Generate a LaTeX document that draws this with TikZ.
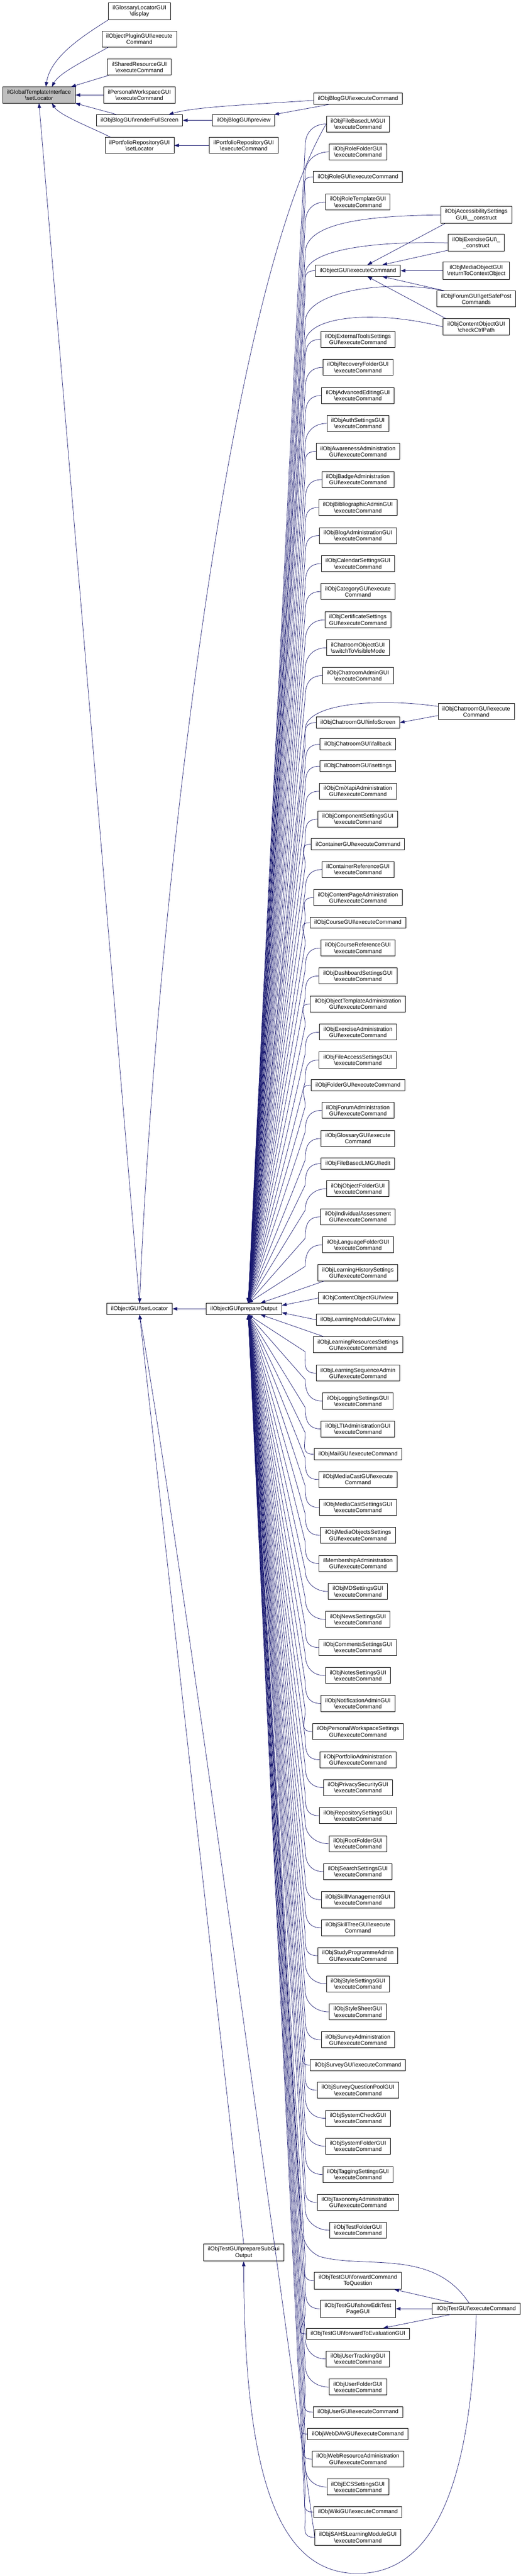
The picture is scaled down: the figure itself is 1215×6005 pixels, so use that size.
\documentclass[tikz,border=0pt]{standalone}
\usepackage{fontspec}
\setmainfont{Liberation Sans}
\usetikzlibrary{arrows.meta,calc}
\definecolor{edgeblue}{RGB}{25,25,112}
\newcommand{\bsl}{\textbackslash}
\begin{document}
\begin{tikzpicture}[x=1pt,y=-1pt,line join=round,>={Triangle[length=11pt,width=8pt]}]
\tikzset{fn/.style={draw=black,line width=1.1pt,fill=white,align=center,inner xsep=10pt,
    inner ysep=6.5pt,minimum height=26pt,font=\fontsize{13.2}{14.7}\selectfont},
  call/.style={->,draw=edgeblue,line width=0.9pt}}
\useasboundingbox (0,0) rectangle (1215,6005);
% callee and its direct callers
\node[fn,fill=black!25] (root) at (91,221.5) {ilGlobalTemplateInterface\\\bsl setLocator};
\node[fn] (glos) at (325.5,26) {ilGlossaryLocatorGUI\\\bsl display};
\node[fn] (plug) at (325,91) {ilObjectPluginGUI\bsl execute\\Command};
\node[fn] (shar) at (325,156.5) {ilSharedResourceGUI\\\bsl executeCommand};
\node[fn] (pers) at (325,221.5) {ilPersonalWorkspaceGUI\\\bsl executeCommand};
\node[fn] (rfs) at (325.5,280.5) {ilObjBlogGUI\bsl renderFullScreen};
\node[fn] (prev) at (568.5,280.5) {ilObjBlogGUI\bsl preview};
\node[fn] (blog) at (835,230) {ilObjBlogGUI\bsl executeCommand};
\node[fn] (pfloc) at (325.5,339) {ilPortfolioRepositoryGUI\\\bsl setLocator};
\node[fn] (pfexe) at (568.5,339) {ilPortfolioRepositoryGUI\\\bsl executeCommand};
\node[fn] (loc) at (325.5,3051) {ilObjectGUI\bsl setLocator};
\node[fn] (prep) at (569,3051) {ilObjectGUI\bsl prepareOutput};
\node[fn] (subgui) at (568.5,5251) {ilObjTestGUI\bsl prepareSubGui\\Output};

\draw[call] (glos.south west) .. controls (200,80) and (118,130) .. ($(root.north)+(16,0)$);
\draw[call] ($(plug.south west)+(15,0)$) .. controls (200,140) and (138,170) .. ($(root.north)+(30,0)$);
\draw[call] ($(shar.south west)+(3,0)$) -- ($(root.north east)+(-10,0)$);
\draw[call] (pers.west) -- (root.east);
\draw[call] ($(rfs.north west)+(48,0)$) -- (root.south east);
\draw[call] ($(pfloc.north west)+(13,0)$) .. controls (220,300) and (140,270) .. ($(root.south)+(30,0)$);
\draw[call] (loc.north) -- (root.south);
\draw[call] (prev.west) -- (rfs.east);
\draw[call] ($(blog.west)+(0,4)$) .. controls (560,245) and (450,250) .. ($(rfs.north east)+(-33,0)$);
\draw[call] ($(blog.south west)+(37,0)$) -- ($(prev.north east)+(-2,0)$);
\draw[call] (pfexe.west) -- (pfloc.east);
\draw[call] (prep.west) -- (loc.east);
\draw[call] (subgui.north) -- (loc.south);

% callers of prepareOutput above it
\foreach \yy/\nm/\txt in {289/fblm/{ilObjFileBasedLMGUI\\\bsl executeCommand},
    354/rolf/{ilObjRoleFolderGUI\\\bsl executeCommand},
    412.5/role/{ilObjRoleGUI\bsl executeCommand},
    471/rolt/{ilObjRoleTemplateGUI\\\bsl executeCommand},
    631/objexe/{ilObjectGUI\bsl executeCommand},
    791/exts/{ilObjExternalToolsSettings\\GUI\bsl executeCommand},
    856.5/recf/{ilObjRecoveryFolderGUI\\\bsl executeCommand},
    922/adve/{ilObjAdvancedEditingGUI\\\bsl executeCommand},
    987/auth/{ilObjAuthSettingsGUI\\\bsl executeCommand},
    1052.5/awar/{ilObjAwarenessAdministration\\GUI\bsl executeCommand},
    1118/badg/{ilObjBadgeAdministration\\GUI\bsl executeCommand},
    1183/bibl/{ilObjBibliographicAdminGUI\\\bsl executeCommand},
    1248.5/bloa/{ilObjBlogAdministrationGUI\\\bsl executeCommand},
    1314/cals/{ilObjCalendarSettingsGUI\\\bsl executeCommand},
    1379/catg/{ilObjCategoryGUI\bsl execute\\Command},
    1445/cert/{ilObjCertificateSettings\\GUI\bsl executeCommand},
    1510/chov/{ilChatroomObjectGUI\\\bsl switchToVisibleMode},
    1575/chad/{ilObjChatroomAdminGUI\\\bsl executeCommand},
    1684.5/chis/{ilObjChatroomGUI\bsl infoScreen},
    1735/chfb/{ilObjChatroomGUI\bsl fallback},
    1786/chst/{ilObjChatroomGUI\bsl settings},
    1844.5/cmix/{ilObjCmiXapiAdministration\\GUI\bsl executeCommand},
    1909.5/comp/{ilObjComponentSettingsGUI\\\bsl executeCommand},
    1968/cont/{ilContainerGUI\bsl executeCommand},
    2027/conr/{ilContainerReferenceGUI\\\bsl executeCommand},
    2092.5/cpag/{ilObjContentPageAdministration\\GUI\bsl executeCommand},
    2151/crs/{ilObjCourseGUI\bsl executeCommand},
    2210/crsr/{ilObjCourseReferenceGUI\\\bsl executeCommand},
    2275/dash/{ilObjDashboardSettingsGUI\\\bsl executeCommand},
    2340.5/otpl/{ilObjObjectTemplateAdministration\\GUI\bsl executeCommand},
    2406/exca/{ilObjExerciseAdministration\\GUI\bsl executeCommand},
    2471/facc/{ilObjFileAccessSettingsGUI\\\bsl executeCommand},
    2529.5/fold/{ilObjFolderGUI\bsl executeCommand},
    2588.5/frma/{ilObjForumAdministration\\GUI\bsl executeCommand},
    2654/glo/{ilObjGlossaryGUI\bsl execute\\Command},
    2712.5/fble/{ilObjFileBasedLMGUI\bsl edit},
    2771/objf/{ilObjObjectFolderGUI\\\bsl executeCommand},
    2836.5/iass/{ilObjIndividualAssessment\\GUI\bsl executeCommand},
    2902/lngf/{ilObjLanguageFolderGUI\\\bsl executeCommand}}
  {
    \node[fn] (\nm) at (835,\yy) {\txt};
    \draw[call] (\nm.west) .. controls +(-30,0) and +(0,-30) .. (712,\yy+50) -- ($(prep.north)+(10,0)$);
  }

% callers of prepareOutput below it
\foreach \yy/\nm/\txt in {3201/lso/{ilObjLearningSequenceAdmin\\GUI\bsl executeCommand},
    3266/logs/{ilObjLoggingSettingsGUI\\\bsl executeCommand},
    3331/lti/{ilObjLTIAdministrationGUI\\\bsl executeCommand},
    3390/mail/{ilObjMailGUI\bsl executeCommand},
    3449/mcst/{ilObjMediaCastGUI\bsl execute\\Command},
    3514/mcss/{ilObjMediaCastSettingsGUI\\\bsl executeCommand},
    3579/mobs/{ilObjMediaObjectsSettings\\GUI\bsl executeCommand},
    3644.5/mema/{ilMembershipAdministration\\GUI\bsl executeCommand},
    3710/mds/{ilObjMDSettingsGUI\\\bsl executeCommand},
    3775/news/{ilObjNewsSettingsGUI\\\bsl executeCommand},
    3840.5/cmts/{ilObjCommentsSettingsGUI\\\bsl executeCommand},
    3906/nots/{ilObjNotesSettingsGUI\\\bsl executeCommand},
    3971/nota/{ilObjNotificationAdminGUI\\\bsl executeCommand},
    4036.5/pwss/{ilObjPersonalWorkspaceSettings\\GUI\bsl executeCommand},
    4102/prta/{ilObjPortfolioAdministration\\GUI\bsl executeCommand},
    4167/psec/{ilObjPrivacySecurityGUI\\\bsl executeCommand},
    4232.5/reps/{ilObjRepositorySettingsGUI\\\bsl executeCommand},
    4298/rtf/{ilObjRootFolderGUI\\\bsl executeCommand},
    4363/srch/{ilObjSearchSettingsGUI\\\bsl executeCommand},
    4428.5/sklm/{ilObjSkillManagementGUI\\\bsl executeCommand},
    4494/sklt/{ilObjSkillTreeGUI\bsl execute\\Command},
    4559/prg/{ilObjStudyProgrammeAdmin\\GUI\bsl executeCommand},
    4624.5/stys/{ilObjStyleSettingsGUI\\\bsl executeCommand},
    4690/stsh/{ilObjStyleSheetGUI\\\bsl executeCommand},
    4755/svya/{ilObjSurveyAdministration\\GUI\bsl executeCommand},
    4814/svy/{ilObjSurveyGUI\bsl executeCommand},
    4872.5/spl/{ilObjSurveyQuestionPoolGUI\\\bsl executeCommand},
    4938/sysc/{ilObjSystemCheckGUI\\\bsl executeCommand},
    5003/sysf/{ilObjSystemFolderGUI\\\bsl executeCommand},
    5069/tags/{ilObjTaggingSettingsGUI\\\bsl executeCommand},
    5134/taxa/{ilObjTaxonomyAdministration\\GUI\bsl executeCommand},
    5199/tstf/{ilObjTestFolderGUI\\\bsl executeCommand},
    5316.5/tfwq/{ilObjTestGUI\bsl forwardCommand\\ToQuestion},
    5382/tedt/{ilObjTestGUI\bsl showEditTest\\PageGUI},
    5440.5/tfwe/{ilObjTestGUI\bsl forwardToEvaluationGUI},
    5499/trac/{ilObjUserTrackingGUI\\\bsl executeCommand},
    5564.5/usrf/{ilObjUserFolderGUI\\\bsl executeCommand},
    5623/usr/{ilObjUserGUI\bsl executeCommand},
    5674/wdav/{ilObjWebDAVGUI\bsl executeCommand},
    5732.5/webr/{ilObjWebResourceAdministration\\GUI\bsl executeCommand},
    5797.5/ecs/{ilObjECSSettingsGUI\\\bsl executeCommand},
    5856/wiki/{ilObjWikiGUI\bsl executeCommand},
    5915/sahs/{ilObjSAHSLearningModuleGUI\\\bsl executeCommand}}
  {
    \node[fn] (\nm) at (835,\yy) {\txt};
    \draw[call] (\nm.west) .. controls +(-30,0) and +(0,30) .. (712,\yy-50) -- ($(prep.south)+(10,0)$);
  }

% callers right next to prepareOutput
\node[fn] (lhs) at (835,2967) {ilObjLearningHistorySettings\\GUI\bsl executeCommand};
\node[fn] (cov) at (835,3026) {ilObjContentObjectGUI\bsl view};
\node[fn] (lmv) at (835,3076.5) {ilObjLearningModuleGUI\bsl view};
\node[fn] (lres) at (835,3135) {ilObjLearningResourcesSettings\\GUI\bsl executeCommand};
\draw[call] ($(lhs.south west)+(15,0)$) -- ($(prep.north)+(39,0)$);
\draw[call] (cov.west) -- ($(prep.east)+(0,-8)$);
\draw[call] (lmv.west) -- ($(prep.east)+(0,9)$);
\draw[call] ($(lres.north west)+(25,0)$) -- ($(prep.south)+(39,0)$);
\draw[call] (fblm.west) .. controls (520,700) and (360,2200) .. (loc.north);
\draw[call] (sahs.west) .. controls (690,5600) and (420,3600) .. (loc.south);

% second level callers
\node[fn] (acc) at (1111,501) {ilObjAccessibilitySettings\\GUI\bsl \_\_construct};
\node[fn] (exc) at (1111,566) {ilObjExerciseGUI\bsl \_\\\_construct};
\node[fn] (mob) at (1111,631) {ilObjMediaObjectGUI\\\bsl returnToContextObject};
\node[fn] (frm) at (1111,697) {ilObjForumGUI\bsl getSafePost\\Commands};
\node[fn] (cop) at (1111,762) {ilObjContentObjectGUI\\\bsl checkCtrlPath};
\node[fn] (chexe) at (1111,1659) {ilObjChatroomGUI\bsl execute\\Command};
\node[fn] (tstexe) at (1111,5382) {ilObjTestGUI\bsl executeCommand};

\draw[call] (acc.west) .. controls (850,503) and (712,520) .. (712,590) -- ($(prep.north)+(10,0)$);
\draw[call] (exc.west) .. controls (880,562) and (712,580) .. (712,640) -- ($(prep.north)+(10,0)$);
\draw[call] ($(frm.north west)+(18,0)$) .. controls (900,650) and (712,680) .. (712,750) -- ($(prep.north)+(10,0)$);
\draw[call] (cop.west) .. controls (880,722) and (712,735) .. (712,800) -- ($(prep.north)+(10,0)$);
\draw[call] ($(chexe.north west)+(0,7)$) .. controls (880,1626) and (712,1640) .. (712,1700) -- ($(prep.north)+(10,0)$);
\draw[call] ($(tstexe.north)+(-17,0)$) .. controls (1010,5240) and (850,5290) .. (745,5260)
  .. controls (715,5245) and (700,5220) .. (700,5150) -- ($(prep.south)+(10,0)$);

\draw[call] ($(acc.south west)+(10,0)$) -- ($(objexe.north)+(22,0)$);
\draw[call] ($(exc.south west)+(0,-3)$) -- ($(objexe.north)+(57,0)$);
\draw[call] (mob.west) -- (objexe.east);
\draw[call] ($(frm.north west)+(18,0)$) -- ($(objexe.south)+(57,0)$);
\draw[call] ($(cop.north west)+(7,0)$) -- ($(objexe.south)+(22,0)$);
\draw[call] ($(chexe.west)+(0,9)$) -- (chis.east);
\draw[call] ($(tstexe.north west)+(49,0)$) -- ($(tfwq.south east)+(-17,0)$);
\draw[call] (tstexe.west) -- (tedt.east);
\draw[call] ($(tstexe.south west)+(43,0)$) -- ($(tfwe.north east)+(-62,0)$);
\draw[call] (tstexe.south) .. controls (1100,5750) and (1030,5999) .. (834,5999)
  .. controls (640,5999) and (570,5750) .. (subgui.south);
\end{tikzpicture}
\end{document}
